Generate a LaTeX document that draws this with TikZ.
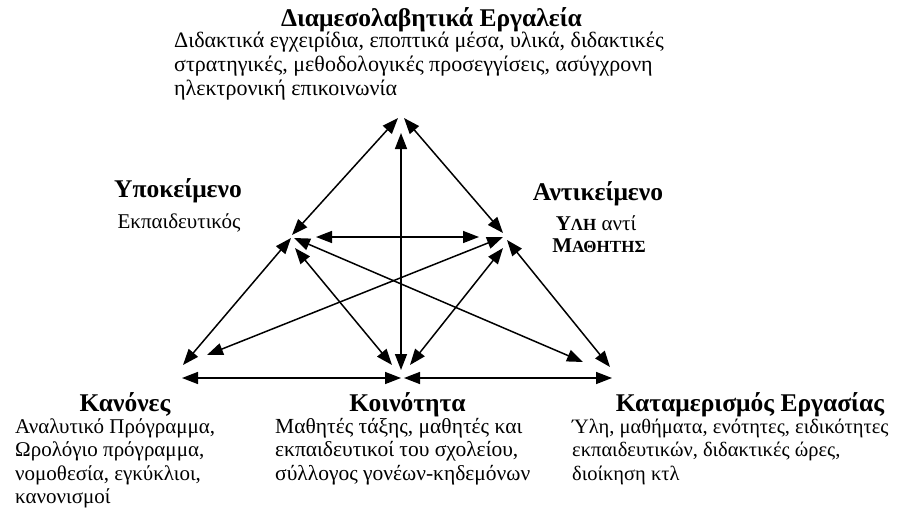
\documentclass[tikz,border=0pt]{standalone}
\usepackage{fontspec}
\setmainfont{Liberation Serif}
\usetikzlibrary{arrows.meta}
\newcommand\smc[1]{{\fontsize{17}{17}\selectfont #1}}
\tikzset{
  ttl/.style={font=\fontsize{25.5}{30}\selectfont\bfseries, inner sep=0pt, anchor=base},
  bdy/.style={inner sep=0pt, anchor=base west},
  sub/.style={font=\fontsize{21}{24}\selectfont, inner sep=0pt, anchor=base},
  link/.style={{Triangle[length=16pt,width=12pt]}-{Triangle[length=16pt,width=12pt]}, line width=1.5pt}
}
\begin{document}
\begin{tikzpicture}[x=1pt,y=-1pt]
\useasboundingbox (0,0) rectangle (905,511);
% texts
\node[ttl] (tT) at (431.5,27) {Διαμεσολαβητικά Εργαλεία};
\node[bdy, font=\fontsize{22}{24}\selectfont] (bT) at (174,48) {\begin{tabular}[t]{@{}l@{}}Διδακτικά εγχειρίδια, εποπτικά μέσα, υλικά, διδακτικές\\ στρατηγικές, μεθοδολογικές προσεγγίσεις, ασύγχρονη\\ ηλεκτρονική επικοινωνία\end{tabular}};
\node[ttl] (tS) at (178,197) {Υποκείμενο};
\node[sub] (bS) at (179,228) {Εκπαιδευτικός};
\node[ttl] (tO) at (598,200) {Αντικείμενο};
\node[sub] (bO1) at (596,230) {{\bfseries Υ\smc{ΛΗ}} αντί};
\node[sub] (bO2) at (599,252) {{\bfseries Μ\smc{ΑΘΗΤΗΣ}}};
\node[ttl] (tR) at (125,411) {Κανόνες};
\node[bdy, font=\fontsize{21}{23.5}\selectfont] (bR) at (15,433) {\begin{tabular}[t]{@{}l@{}}Αναλυτικό Πρόγραμμα,\\ Ωρολόγιο πρόγραμμα,\\ νομοθεσία, εγκύκλιοι,\\ κανονισμοί\end{tabular}};
\node[ttl] (tC) at (407.5,411) {Κοινότητα};
\node[bdy, font=\fontsize{21.5}{23.5}\selectfont] (bC) at (275,433) {\begin{tabular}[t]{@{}l@{}}Μαθητές τάξης, μαθητές και\\ εκπαιδευτικοί του σχολείου,\\ σύλλογος γονέων-κηδεμόνων\end{tabular}};
\node[ttl] (tD) at (750,411) {Καταμερισμός Εργασίας};
\node[bdy, font=\fontsize{20.5}{23.5}\selectfont] (bD) at (572,433) {\begin{tabular}[t]{@{}l@{}}Ύλη, μαθήματα, ενότητες, ειδικότητες\\ εκπαιδευτικών, διδακτικές ώρες,\\ διοίκηση κτλ\end{tabular}};
% arrow end points
\coordinate (T1) at (398,118);
\coordinate (T2) at (404,118);
\coordinate (T3) at (401,133);
\coordinate (S1) at (292,235);
\coordinate (S2) at (316,237);
\coordinate (S3) at (291,238);
\coordinate (S4) at (295,248);
\coordinate (S5) at (294,238);
\coordinate (O1) at (503,233);
\coordinate (O2) at (479,237);
\coordinate (O3) at (503,237);
\coordinate (O4) at (503,248);
\coordinate (O5) at (507,240);
\coordinate (R1) at (183,365);
\coordinate (R2) at (207,355);
\coordinate (R3) at (182,378);
\coordinate (C1) at (392,365);
\coordinate (C2) at (401,370);
\coordinate (C3) at (410,365);
\coordinate (C4) at (401,378);
\coordinate (C5) at (404,378);
\coordinate (D1) at (583,362);
\coordinate (D2) at (610,367);
\coordinate (D3) at (612,378);
% connectors
\draw[link] (T1) -- (S1);
\draw[link] (T2) -- (O1);
\draw[link] (T3) -- (C2);
\draw[link] (S2) -- (O2);
\draw[link] (S3) -- (R1);
\draw[link] (S4) -- (C1);
\draw[link] (S5) -- (D1);
\draw[link] (O3) -- (R2);
\draw[link] (O4) -- (C3);
\draw[link] (O5) -- (D2);
\draw[link] (R3) -- (C4);
\draw[link] (C5) -- (D3);
\end{tikzpicture}
\end{document}
